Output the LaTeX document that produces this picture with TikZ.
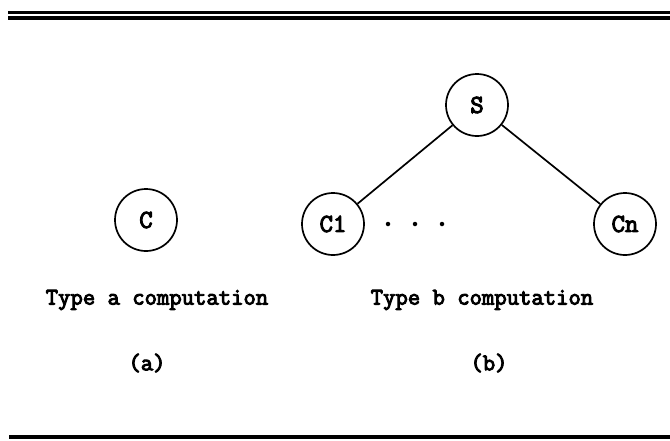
\documentclass[tikz,border=0pt]{standalone}
\usepackage{fontspec}
\newfontfamily\capfont[FakeBold=4]{Latin Modern Mono}
\begin{document}
\begin{tikzpicture}[x=1pt,y=-1pt,
  lbl/.style={font=\capfont\fontsize{24}{28}\selectfont, inner sep=0pt},
  proc/.style={draw, circle, line width=1.7pt, minimum size=62pt, inner sep=0pt,
    font=\capfont\fontsize{26}{30}\selectfont},
  link/.style={line width=1.7pt},
  rule/.style={line width=#1},
  dotnode/.style={circle, fill, inner sep=0pt, minimum size=4.5pt}
]
\useasboundingbox (0,0) rectangle (670,440);
% rules
\draw[rule=3pt] (8,12.5) -- (670,12.5);
\draw[rule=4pt] (8,18) -- (670,18);
\draw[rule=4pt] (9,437) -- (670,437);
% nodes
\node[proc] (C) at (146,220) {C};
\node[proc] (S) at (477,105) {S};
\node[proc] (C1) at (333,224) {C1};
\node[proc] (Cn) at (625,224) {Cn};
\node[dotnode] (d1) at (388,224) {};
\node[dotnode] (d2) at (415,224) {};
\node[dotnode] (d3) at (442,224) {};
\draw[link] (S) -- (C1);
\draw[link] (S) -- (Cn);
% captions
\node[lbl] (ta) at (157,300) {Type a computation};
\node[lbl] (tb) at (482,300) {Type b computation};
\node[lbl] (la) at (147,363) {(a)};
\node[lbl] (lb) at (489,363) {(b)};
\end{tikzpicture}
\end{document}
